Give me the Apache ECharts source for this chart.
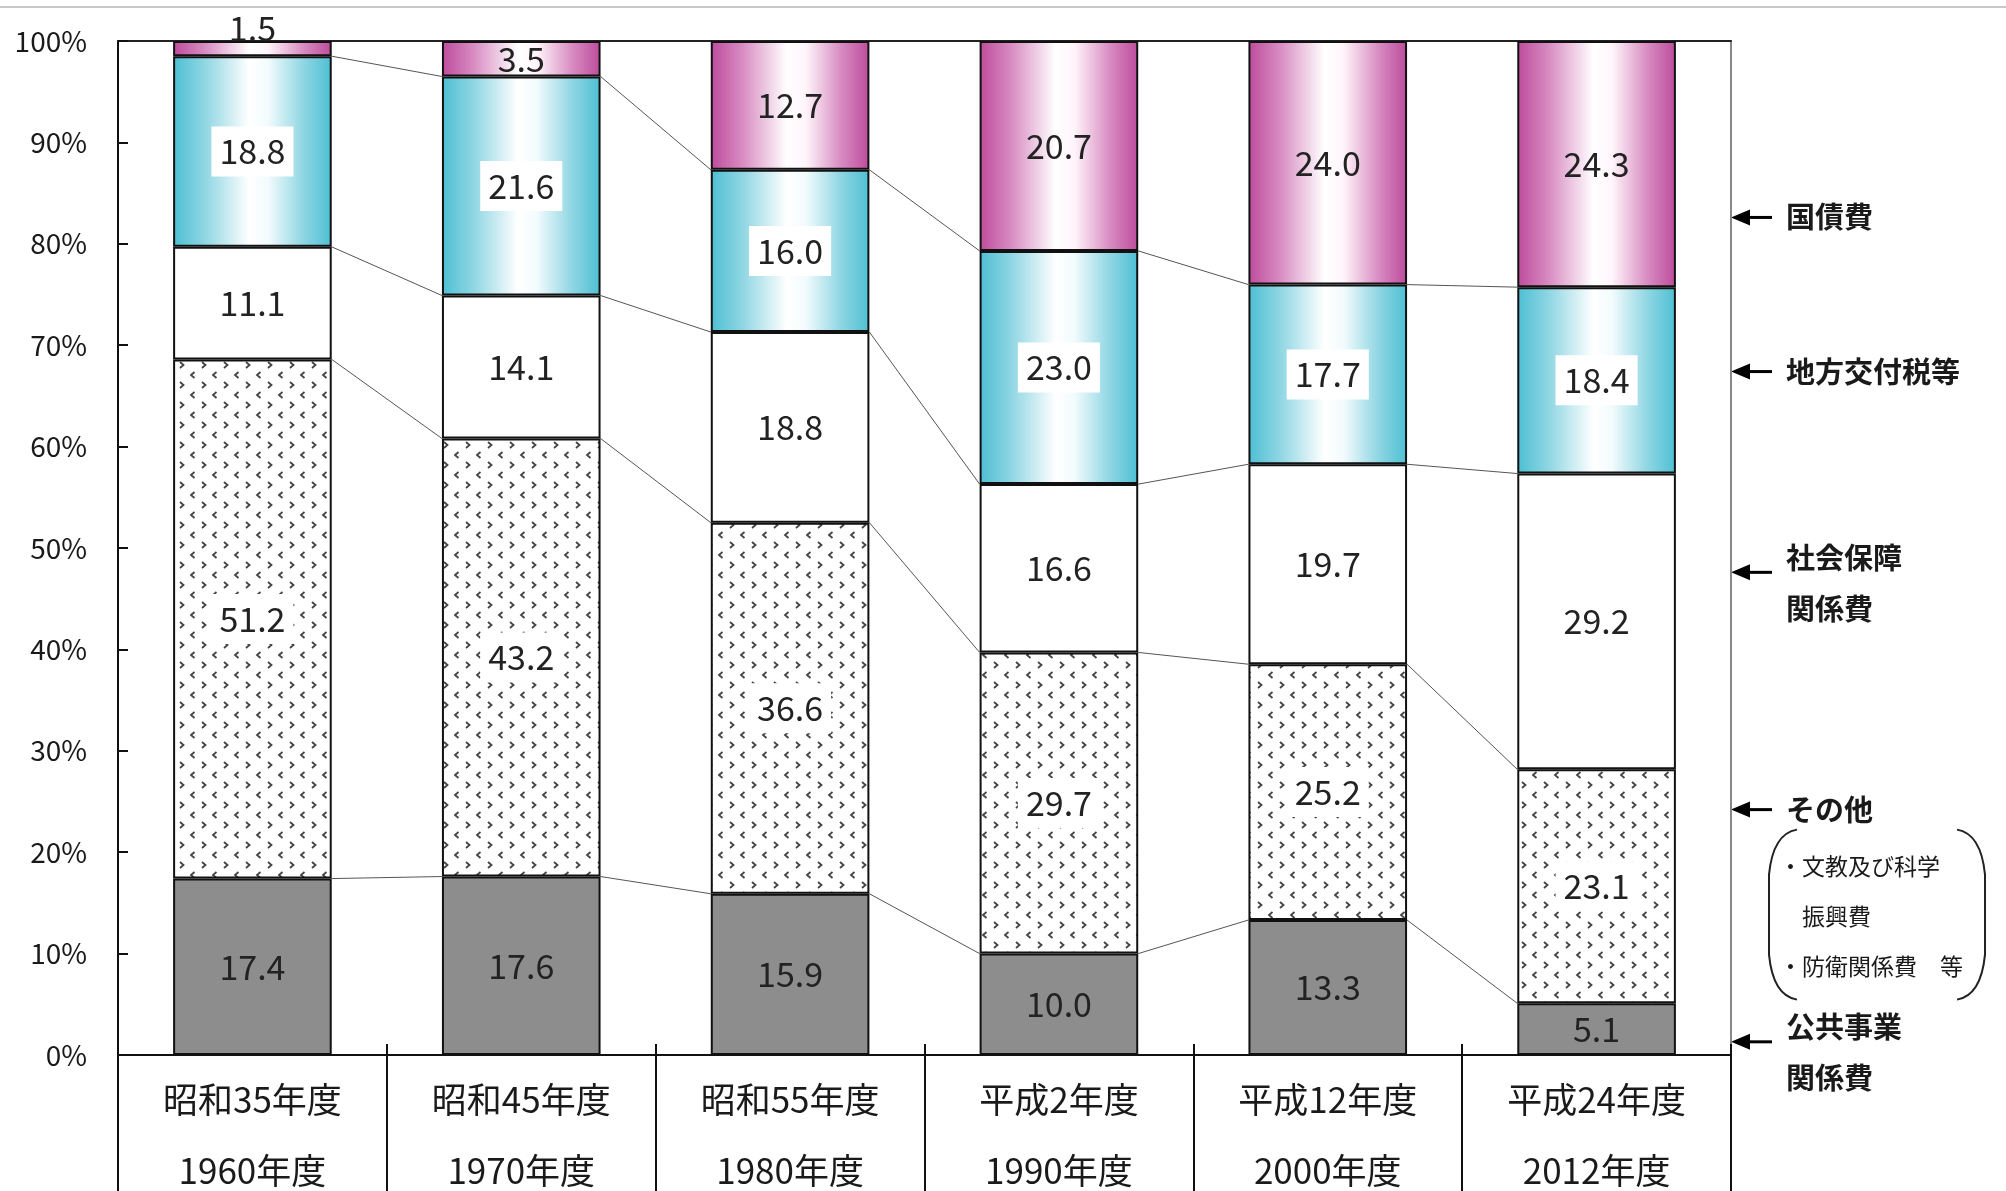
<!DOCTYPE html>
<html><head><meta charset="utf-8">
<script src="https://cdn.jsdelivr.net/npm/echarts@6/dist/echarts.min.js"></script>
<style>html,body{margin:0;padding:0;background:#fff;overflow:hidden}#c{width:2006px;height:1191px}</style>
</head><body><div id="c"></div>
<script>
// ---- data ----
const categoriesWareki = ['昭和35年度','昭和45年度','昭和55年度','平成2年度','平成12年度','平成24年度'];
const categoriesYear = ['1960年度','1970年度','1980年度','1990年度','2000年度','2012年度'];
const publicWorks = [17.4, 17.6, 15.9, 10.0, 13.3, 5.1];     // 公共事業関係費
const others = [51.2, 43.2, 36.6, 29.7, 25.2, 23.1];         // その他
const socialSecurity = [11.1, 14.1, 18.8, 16.6, 19.7, 29.2]; // 社会保障関係費
const localTax = [18.8, 21.6, 16.0, 23.0, 17.7, 18.4];       // 地方交付税等
const debt = [1.5, 3.5, 12.7, 20.7, 24.0, 24.3];             // 国債費
const yTickLabels = ['0%','10%','20%','30%','40%','50%','60%','70%','80%','90%','100%'];
const legendNames = ['国債費','地方交付税等','社会保障\n関係費','その他','公共事業\n関係費'];
const legendLevels = [82.6, 67.4, 47.6, 24.2, 1.3];
const otherNotes = ['・文教及び科学', '　振興費', '・防衛関係費　等'];

// ---- build ----
const layers = [publicWorks, others, socialSecurity, localTax, debt];
const totals = categoriesYear.map((_, i) => layers.reduce((s, a) => s + a[i], 0));
const norm = arr => arr.map((v, i) => v / totals[i] * 100);

const FONT = '"Noto Sans CJK JP", "Liberation Sans", sans-serif';
const BARW = 0.59;

function makePattern() {
  const c = document.createElement('canvas'); c.width = 22; c.height = 20;
  const g = c.getContext('2d');
  g.fillStyle = '#fff'; g.fillRect(0, 0, 22, 20);
  g.strokeStyle = '#444'; g.lineWidth = 1.8;
  g.beginPath(); g.moveTo(4, 2); g.lineTo(7.5, 5); g.lineTo(4, 8); g.stroke();
  g.beginPath(); g.moveTo(18.5, 12); g.lineTo(15, 15); g.lineTo(18.5, 18); g.stroke();
  return c;
}
const purpleGrad = new echarts.graphic.LinearGradient(0, 0, 1, 0, [
  {offset: 0, color: '#bd4b9c'}, {offset: 0.2, color: '#d88cc2'},
  {offset: 0.48, color: '#ffffff'}, {offset: 0.6, color: '#fff4fa'},
  {offset: 0.82, color: '#d88cc2'}, {offset: 1, color: '#bd4b9c'}]);
const cyanGrad = new echarts.graphic.LinearGradient(0, 0, 1, 0, [
  {offset: 0, color: '#4dbfd3'}, {offset: 0.2, color: '#8fd6e3'},
  {offset: 0.48, color: '#ffffff'}, {offset: 0.6, color: '#f2fbfd'},
  {offset: 0.82, color: '#8fd6e3'}, {offset: 1, color: '#4dbfd3'}]);

const fills = ['#8d8d8d', {image: makePattern(), repeat: 'repeat'}, '#ffffff', cyanGrad, purpleGrad];
const labelBg = [null, '#ffffff', null, '#ffffff', null];
const names = ['公共事業関係費','その他','社会保障関係費','地方交付税等','国債費'];

const series = layers.map((arr, k) => ({
  name: names[k], type: 'bar', stack: 'total', barWidth: (BARW * 100) + '%',
  xAxisIndex: 0, yAxisIndex: 0, z: 3,
  itemStyle: {color: fills[k], borderColor: '#111', borderWidth: 2},
  label: {
    show: true, position: 'inside', fontFamily: FONT, fontSize: 34, color: '#222',
    backgroundColor: labelBg[k] || 'transparent', padding: labelBg[k] ? [8, 8] : 0,
    formatter: p => arr[p.dataIndex].toFixed(1)
  },
  data: norm(arr).map((v, i) => (k === 4 && arr[i] < 2)
    ? {value: v, label: {position: 'top', distance: -4}}
    : v)
}));

// connecting (series) lines between adjacent bars
let cum = categoriesYear.map(() => 0);
for (let k = 0; k < 4; k++) {
  const nk = norm(layers[k]);
  cum = cum.map((c, i) => c + nk[i]);
  const d = [];
  for (let i = 0; i < cum.length - 1; i++) d.push([i, cum[i], cum[i + 1]]);
  series.push({
    type: 'custom', xAxisIndex: 0, yAxisIndex: 0, z: 2, silent: true,
    renderItem: (params, api) => {
      const a = api.coord([api.value(0), api.value(1)]);
      const b = api.coord([api.value(0) + 1, api.value(2)]);
      const half = api.size([1, 0])[0] * BARW / 2;
      return {type: 'line', shape: {x1: a[0] + half, y1: a[1], x2: b[0] - half, y2: b[1]},
        style: {stroke: '#555', lineWidth: 1}};
    },
    data: d
  });
}

const chart = echarts.init(document.getElementById('c'), null, {renderer: 'canvas'});
chart.setOption({
  animation: false,
  backgroundColor: '#fff',
  grid: {left: 118, right: 275, top: 41, bottom: 136, containLabel: false, outerBoundsMode: 'none'},
  xAxis: [
    {type: 'category', position: 'bottom', data: categoriesYear,
     axisLine: {lineStyle: {color: '#111', width: 2}},
     axisTick: {show: true, interval: 0, length: 140, lineStyle: {color: '#111', width: 2}},
     axisLabel: {interval: 0, margin: 9, fontFamily: FONT, fontSize: 35, lineHeight: 71, color: '#1a1a1a',
       formatter: (v, i) => categoriesWareki[i] + '\n' + categoriesYear[i]}},
    {type: 'category', position: 'bottom', data: categoriesYear,
     axisLine: {show: false}, axisLabel: {show: false},
     axisTick: {show: true, inside: true, interval: 0, length: 11, lineStyle: {color: '#111', width: 2}}},
    {type: 'category', position: 'top', data: categoriesYear,
     axisLine: {show: true, lineStyle: {color: '#222', width: 2}}, axisTick: {show: false}, axisLabel: {show: false}}
  ],
  yAxis: [
    {type: 'value', min: 0, max: 100, interval: 10, position: 'left',
     axisLine: {show: true, lineStyle: {color: '#111', width: 2}},
     axisTick: {show: true, inside: true, length: 10, lineStyle: {color: '#111', width: 2}},
     splitLine: {show: false},
     axisLabel: {margin: 31, fontFamily: FONT, fontSize: 28, color: '#1a1a1a',
       formatter: v => yTickLabels[Math.round(v / 10)]}},
    {type: 'value', min: 0, max: 100, interval: 10, position: 'right',
     axisLine: {show: true, lineStyle: {color: '#888', width: 2}},
     axisTick: {show: false}, axisLabel: {show: false}, splitLine: {show: false}}
  ],
  series: series
});

// annotations on the right
const xr = chart.convertToPixel({xAxisIndex: 0}, categoriesYear[5]);
const bandW = (chart.convertToPixel({xAxisIndex: 0}, categoriesYear[5]) - chart.convertToPixel({xAxisIndex: 0}, categoriesYear[4]));
const axisX = Math.round(xr + bandW / 2);
const g = [{type: 'line', shape: {x1: 0, y1: 7, x2: 2006, y2: 7}, style: {stroke: '#c8c8c8', lineWidth: 2}}];
legendLevels.forEach((lv, i) => {
  const y = chart.convertToPixel({yAxisIndex: 0}, lv);
  g.push({type: 'polygon', shape: {points: [[axisX, y], [axisX + 19, y - 8], [axisX + 19, y + 8]]}, style: {fill: '#000'}});
  g.push({type: 'line', shape: {x1: axisX + 15, y1: y, x2: axisX + 41, y2: y}, style: {stroke: '#000', lineWidth: 3}});
  const twoLine = legendNames[i].indexOf('\n') >= 0;
  g.push({type: 'text', x: axisX + 55, y: twoLine ? y - 40 : y,
    style: {text: legendNames[i], font: 'bold 29px ' + FONT, fill: '#1a1a1a',
      verticalAlign: twoLine ? 'top' : 'middle', lineHeight: 51}});
});
// bracket with notes under その他
const yb = chart.convertToPixel({yAxisIndex: 0}, 24.2);
const bx0 = axisX + 38, bx1 = axisX + 254, by0 = yb + 20, by1 = yb + 190;
const bs = {stroke: '#222', lineWidth: 2, fill: null};
g.push({type: 'bezierCurve', shape: {x1: bx0 + 28, y1: by0, x2: bx0, y2: by0 + 45, cpx1: bx0 + 4, cpy1: by0 + 4}, style: bs});
g.push({type: 'line', shape: {x1: bx0, y1: by0 + 44, x2: bx0, y2: by1 - 44}, style: bs});
g.push({type: 'bezierCurve', shape: {x1: bx0, y1: by1 - 45, x2: bx0 + 28, y2: by1, cpx1: bx0 + 4, cpy1: by1 - 4}, style: bs});
g.push({type: 'bezierCurve', shape: {x1: bx1 - 28, y1: by0, x2: bx1, y2: by0 + 45, cpx1: bx1 - 4, cpy1: by0 + 4}, style: bs});
g.push({type: 'line', shape: {x1: bx1, y1: by0 + 44, x2: bx1, y2: by1 - 44}, style: bs});
g.push({type: 'bezierCurve', shape: {x1: bx1, y1: by1 - 45, x2: bx1 - 28, y2: by1, cpx1: bx1 - 4, cpy1: by1 - 4}, style: bs});
otherNotes.forEach((t, j) => {
  g.push({type: 'text', x: bx0 + 10, y: by0 + 37 + j * 50,
    style: {text: t, font: '23px ' + FONT, fill: '#1a1a1a', verticalAlign: 'middle'}});
});
chart.setOption({graphic: g});
</script></body></html>
